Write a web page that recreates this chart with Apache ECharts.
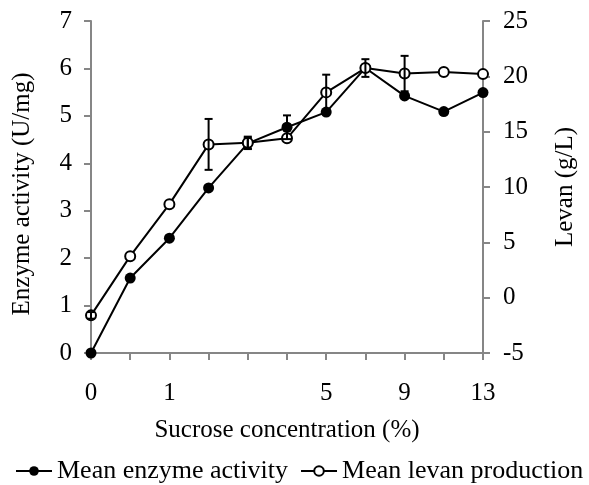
<!DOCTYPE html>
<html>
<head>
<meta charset="utf-8">
<script src="https://cdn.jsdelivr.net/npm/echarts@6/dist/echarts.min.js"></script>
<style>
  html, body { margin: 0; padding: 0; background: #fff; }
  #chart { width: 589px; height: 485px; }
</style>
</head>
<body>
<div id="chart"></div>
<script>
// Sucrose concentration (%) for each sample
const concentrations = ['0', '0.5', '1', '2', '3', '4', '5', '7', '9', '11', '13'];
// Concentrations that get a tick label
const labelledConcentrations = ['0', '1', '5', '9', '13'];

// Mean enzyme activity (U/mg) and its error
const enzymeActivity = [0, 1.58, 2.42, 3.48, 4.42, 4.76, 5.08, 6.01, 5.42, 5.09, 5.49];
const enzymeError    = [0, 0, 0, 0, 0.12, 0.25, 0, 0, 0, 0, 0];

// Mean levan production (g/L) and its error
const levanProduction = [-1.6, 3.75, 8.45, 13.85, 14.0, 14.4, 18.55, 20.75, 20.25, 20.4, 20.2];
const levanError      = [0.3, 0, 0, 2.3, 0.55, 0, 1.6, 0.8, 1.6, 0, 0];

const FONT = '"Liberation Serif", "Times New Roman", serif';
const AXIS_GREY = '#868686';
const FS = 25;

// Vertical error bar with caps, placed through the axis scales
function errorBars(values, errors, yIndex) {
  const data = [];
  values.forEach((v, i) => {
    if (errors[i] > 0) data.push([i, v - errors[i], v + errors[i]]);
  });
  return {
    type: 'custom',
    yAxisIndex: yIndex,
    z: 5,
    silent: true,
    data: data,
    renderItem: function (params, api) {
      const lo = api.coord([api.value(0), api.value(1)]);
      const hi = api.coord([api.value(0), api.value(2)]);
      const half = 4;
      const style = { stroke: '#000', lineWidth: 2 };
      return {
        type: 'group',
        children: [
          { type: 'line', shape: { x1: lo[0], y1: lo[1], x2: hi[0], y2: hi[1] }, style },
          { type: 'line', shape: { x1: hi[0] - half, y1: hi[1], x2: hi[0] + half, y2: hi[1] }, style },
          { type: 'line', shape: { x1: lo[0] - half, y1: lo[1], x2: lo[0] + half, y2: lo[1] }, style }
        ]
      };
    }
  };
}

const chart = echarts.init(document.getElementById('chart'), null, { renderer: 'canvas' });

const valueAxisBase = {
  type: 'value',
  nameLocation: 'middle',
  nameRotate: 90,
  axisLine: { show: true, lineStyle: { color: AXIS_GREY, width: 2 } },
  axisTick: { show: true, inside: false, length: 7, lineStyle: { color: AXIS_GREY, width: 2 } },
  splitLine: { show: false }
};

chart.setOption({
  animation: false,
  backgroundColor: '#fff',
  grid: { left: 91, right: 106, top: 21, bottom: 132, containLabel: false },
  legend: {
    data: ['Mean enzyme activity', 'Mean levan production'],
    bottom: -4,
    left: 10,
    itemWidth: 36,
    itemHeight: 12,
    itemGap: 12,
    textStyle: { fontFamily: FONT, fontSize: 26, color: '#000' }
  },
  xAxis: {
    type: 'category',
    data: concentrations,
    boundaryGap: false,
    name: 'Sucrose concentration (%)',
    nameLocation: 'middle',
    nameGap: 65,
    nameTextStyle: { fontFamily: FONT, fontSize: FS, color: '#000' },
    axisLine: { lineStyle: { color: AXIS_GREY, width: 2 } },
    axisTick: { show: true, interval: 0, length: 7, lineStyle: { color: AXIS_GREY, width: 2 } },
    axisLabel: {
      interval: (i, name) => labelledConcentrations.includes(name),
      fontFamily: FONT, fontSize: FS, color: '#000', margin: 28
    }
  },
  yAxis: [
    Object.assign({}, valueAxisBase, {
      name: 'Enzyme activity (U/mg)',
      nameGap: 56,
      nameTextStyle: { fontFamily: FONT, fontSize: FS, color: '#000', padding: [0, 14, 0, 0] },
      axisLabel: { fontFamily: FONT, fontSize: FS, color: '#000', margin: 19 },
      position: 'left',
      min: 0, max: 7, interval: 1
    }),
    Object.assign({}, valueAxisBase, {
      name: 'Levan (g/L)',
      nameGap: 70,
      nameTextStyle: { fontFamily: FONT, fontSize: FS, color: '#000' },
      axisLabel: { fontFamily: FONT, fontSize: FS, color: '#000', margin: 20 },
      position: 'right',
      min: -5, max: 25, interval: 5
    })
  ],
  series: [
    {
      name: 'Mean enzyme activity',
      type: 'line',
      yAxisIndex: 0,
      data: enzymeActivity,
      symbol: 'circle',
      symbolSize: 11,
      itemStyle: { color: '#000', borderColor: '#000', borderWidth: 0 },
      lineStyle: { color: '#000', width: 2 },
      z: 3
    },
    {
      name: 'Mean levan production',
      type: 'line',
      yAxisIndex: 1,
      data: levanProduction,
      symbol: 'circle',
      symbolSize: 10,
      itemStyle: { color: '#fff', borderColor: '#000', borderWidth: 2 },
      lineStyle: { color: '#000', width: 2 },
      z: 4
    },
    errorBars(enzymeActivity, enzymeError, 0),
    errorBars(levanProduction, levanError, 1)
  ]
});
</script>
</body>
</html>
